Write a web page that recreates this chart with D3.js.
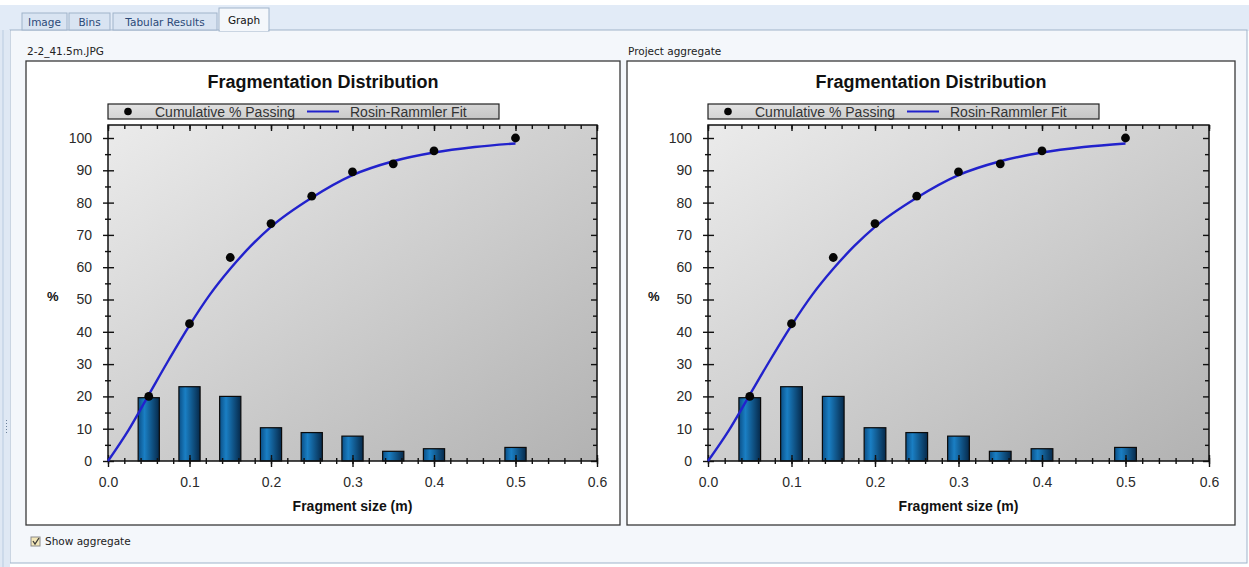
<!DOCTYPE html>
<html>
<head>
<meta charset="utf-8">
<script src="https://cdn.jsdelivr.net/npm/d3@7"></script>
<style>
  html, body { margin: 0; padding: 0; background: #ffffff; }
  svg { display: block; }
</style>
</head>
<body>
<div id="chart"></div>
<script>
// Data
const sizes = [0.05, 0.1, 0.15, 0.2, 0.25, 0.3, 0.35, 0.4, 0.5];
const cumPassing = [20, 42.5, 63, 73.5, 82, 89.5, 92, 96, 100];
const binPercent = [19.6, 23, 20, 10.3, 8.8, 7.7, 3.0, 3.8, 4.2];
const fitSizes = [0, 0.025, 0.05, 0.075, 0.1, 0.125, 0.15, 0.175, 0.2, 0.25, 0.3, 0.35, 0.4, 0.45, 0.5];
const fitValues = [0, 9.5, 20.5, 31.5, 42, 51.5, 59.5, 66.5, 72.5, 81.5, 88.5, 92.8, 95.5, 97.2, 98.3];
const xTicks = [0, 0.1, 0.2, 0.3, 0.4, 0.5, 0.6];
const yTicks = [0, 10, 20, 30, 40, 50, 60, 70, 80, 90, 100];
const tabNames = ["Image", "Bins", "Tabular Results", "Graph"];
const panelNames = ["2-2_41.5m.JPG", "Project aggregate"];

const W = 1249, H = 567;
const font = "Liberation Sans, Arial, sans-serif";
const uiFont = "DejaVu Sans, sans-serif";
const svg = d3.select("#chart").append("svg").attr("width", W).attr("height", H);
const defs = svg.append("defs");

// gradients
const bg = defs.append("linearGradient").attr("id", "plotBg")
    .attr("x1", "0%").attr("y1", "0%").attr("x2", "100%").attr("y2", "100%");
bg.append("stop").attr("offset", "0%").attr("stop-color", "#ebebeb");
bg.append("stop").attr("offset", "100%").attr("stop-color", "#b2b2b2");

const barG = defs.append("linearGradient").attr("id", "barFill")
    .attr("x1", "0%").attr("y1", "0%").attr("x2", "100%").attr("y2", "0%");
barG.append("stop").attr("offset", "0%").attr("stop-color", "#0b4f86");
barG.append("stop").attr("offset", "30%").attr("stop-color", "#1a7fc4");
barG.append("stop").attr("offset", "100%").attr("stop-color", "#06294a");

const legG = defs.append("linearGradient").attr("id", "legFill")
    .attr("x1", "0%").attr("y1", "0%").attr("x2", "100%").attr("y2", "100%");
legG.append("stop").attr("offset", "0%").attr("stop-color", "#e4e4e4");
legG.append("stop").attr("offset", "100%").attr("stop-color", "#c4c4c4");

// window chrome
svg.append("rect").attr("x", 0).attr("y", 5).attr("width", W).attr("height", 26).attr("fill", "#e2ebf7");
svg.append("rect").attr("x", 10).attr("y", 30).attr("width", 1237).attr("height", 533)
    .attr("fill", "#f4f7fb").attr("stroke", "#9fb3ca");
svg.append("rect").attr("x", 0).attr("y", 30).attr("width", 10).attr("height", 537).attr("fill", "#dfe8f4");
svg.append("line").attr("x1", 3).attr("x2", 3).attr("y1", 30).attr("y2", 567).attr("stroke", "#b9cbe0");
for (let i = 0; i < 5; i++) {
    svg.append("rect").attr("x", 6).attr("y", 420 + i * 3).attr("width", 1).attr("height", 1).attr("fill", "#6a7f99");
}

// tabs
const tabPos = [[22, 45], [69, 41], [113, 104], [219, 50]];
tabNames.forEach((t, i) => {
    const active = i === 3;
    const [tx, tw] = tabPos[i];
    const ty = active ? 8 : 13;
    svg.append("rect").attr("x", tx).attr("y", ty).attr("width", tw).attr("height", 30 - ty + (active ? 1 : 0))
        .attr("fill", active ? "#f4f7fb" : "#d9e4f2").attr("stroke", "#9fb3ca");
    svg.append("text").attr("x", tx + tw / 2).attr("y", active ? 24 : 26)
        .attr("text-anchor", "middle").attr("font-family", uiFont).attr("font-size", 10.5)
        .attr("fill", active ? "#111" : "#2c4a78").text(t);
});
svg.append("line").attr("x1", 220).attr("x2", 268).attr("y1", 30).attr("y2", 30).attr("stroke", "#f4f7fb").attr("stroke-width", 2);

// checkbox
svg.append("rect").attr("x", 31).attr("y", 537).attr("width", 9).attr("height", 9)
    .attr("fill", "#f3e7b8").attr("stroke", "#8a8a8a");
svg.append("path").attr("d", "M33,541 L35,544 L39,538").attr("fill", "none").attr("stroke", "#3a3a3a").attr("stroke-width", 1.3);
svg.append("text").attr("x", 45).attr("y", 545).attr("font-family", uiFont)
    .attr("font-size", 10.5).attr("fill", "#222").text("Show aggregate");

const panels = [
    {box: [26, 61, 594, 464], plot: [108, 597], name: panelNames[0]},
    {box: [627, 61, 608, 464], plot: [708, 1209], name: panelNames[1]}
];

const plotTop = 125, plotBottom = 461;
const barWidth = 0.026;

function drawPanel(p) {
    const [bx, by, bw, bh] = p.box;
    const g = svg.append("g");

    g.append("text").attr("x", bx + 1).attr("y", 55).attr("font-family", uiFont)
        .attr("font-size", 10.5).attr("fill", "#222").text(p.name);
    g.append("rect").attr("x", bx).attr("y", by).attr("width", bw).attr("height", bh)
        .attr("fill", "#ffffff").attr("stroke", "#3a3a3a").attr("stroke-width", 1.3);

    const x = d3.scaleLinear().domain([0, 0.6]).range(p.plot);
    const y = d3.scaleLinear().domain([0, 100]).range([plotBottom, 138]);
    const [x0, x1] = p.plot;

    // title
    g.append("text").attr("x", bx + bw / 2).attr("y", 88).attr("text-anchor", "middle")
        .attr("font-family", font).attr("font-weight", "bold")
        .attr("font-size", 18).attr("fill", "#111").text("Fragmentation Distribution");

    // plot background
    g.append("rect").attr("x", x0).attr("y", plotTop).attr("width", x1 - x0).attr("height", plotBottom - plotTop)
        .attr("fill", "url(#plotBg)");

    // bars
    g.selectAll("rect.bar").data(sizes).enter().append("rect").attr("class", "bar")
        .attr("x", d => x(d - barWidth / 2))
        .attr("width", d => x(d + barWidth / 2) - x(d - barWidth / 2))
        .attr("y", (d, i) => y(binPercent[i]))
        .attr("height", (d, i) => y(0) - y(binPercent[i]))
        .attr("fill", "url(#barFill)").attr("stroke", "#0a0a0a").attr("stroke-width", 1.2);

    // frame
    g.append("rect").attr("x", x0).attr("y", plotTop).attr("width", x1 - x0).attr("height", plotBottom - plotTop)
        .attr("fill", "none").attr("stroke", "#111").attr("stroke-width", 1.5);

    const minorX = d3.range(0, 0.6001, 0.02);
    const minorY = d3.range(5, 101, 10);
    const tickStyle = sel => {
        sel.select(".domain").remove();
        sel.selectAll("line").attr("stroke", "#111").attr("stroke-width", 1.4);
    };

    // left axis: labels + outward major ticks
    const yl = g.append("g").attr("transform", `translate(${x0},0)`)
        .call(d3.axisLeft(y).tickValues(yTicks).tickSize(5).tickPadding(11).tickFormat(d3.format("d")));
    yl.call(tickStyle);
    yl.selectAll("text").attr("font-family", font).attr("font-size", 14).attr("fill", "#2a2a2a");
    g.append("g").attr("transform", `translate(${x0},0)`)
        .call(d3.axisLeft(y).tickValues(yTicks).tickSize(-6).tickFormat("")).call(tickStyle);
    g.append("g").attr("transform", `translate(${x0},0)`)
        .call(d3.axisLeft(y).tickValues(minorY).tickSize(3).tickFormat("")).call(tickStyle);
    g.append("g").attr("transform", `translate(${x0},0)`)
        .call(d3.axisLeft(y).tickValues(minorY).tickSize(-3).tickFormat("")).call(tickStyle);

    // right axis: inward ticks
    g.append("g").attr("transform", `translate(${x1},0)`)
        .call(d3.axisRight(y).tickValues(yTicks).tickSize(-6).tickFormat("")).call(tickStyle);
    g.append("g").attr("transform", `translate(${x1},0)`)
        .call(d3.axisRight(y).tickValues(minorY).tickSize(-4).tickFormat("")).call(tickStyle);

    // bottom axis
    const xb = g.append("g").attr("transform", `translate(0,${plotBottom})`)
        .call(d3.axisBottom(x).tickValues(xTicks).tickSize(6).tickPadding(10).tickFormat(d3.format(".1f")));
    xb.call(tickStyle);
    xb.selectAll("text").attr("font-family", font).attr("font-size", 14).attr("fill", "#2a2a2a");
    g.append("g").attr("transform", `translate(0,${plotBottom})`)
        .call(d3.axisBottom(x).tickValues(xTicks).tickSize(-6).tickFormat("")).call(tickStyle);
    g.append("g").attr("transform", `translate(0,${plotBottom})`)
        .call(d3.axisBottom(x).tickValues(minorX).tickSize(3).tickFormat("")).call(tickStyle);
    g.append("g").attr("transform", `translate(0,${plotBottom})`)
        .call(d3.axisBottom(x).tickValues(minorX).tickSize(-3).tickFormat("")).call(tickStyle);

    // top axis: inward ticks
    g.append("g").attr("transform", `translate(0,${plotTop})`)
        .call(d3.axisTop(x).tickValues(minorX).tickSize(-4).tickFormat("")).call(tickStyle);
    g.append("g").attr("transform", `translate(0,${plotTop})`)
        .call(d3.axisTop(x).tickValues(xTicks).tickSize(-6).tickFormat("")).call(tickStyle);

    // fit line
    const line = d3.line().x(d => x(d[0])).y(d => y(d[1])).curve(d3.curveMonotoneX);
    g.append("path").datum(fitSizes.map((s, i) => [s, fitValues[i]]))
        .attr("d", line).attr("fill", "none").attr("stroke", "#2222cc").attr("stroke-width", 2.4);

    // cumulative points
    g.selectAll("circle.pt").data(sizes).enter().append("circle").attr("class", "pt")
        .attr("cx", d => x(d)).attr("cy", (d, i) => y(cumPassing[i])).attr("r", 4.4).attr("fill", "#050505");

    // axis titles
    g.append("text").attr("x", (x0 + x1) / 2).attr("y", 511).attr("text-anchor", "middle")
        .attr("font-family", font).attr("font-weight", "bold")
        .attr("font-size", 14).attr("fill", "#111").text("Fragment size (m)");
    g.append("text").attr("x", bx + 21).attr("y", 301)
        .attr("font-family", font).attr("font-weight", "bold")
        .attr("font-size", 13).attr("fill", "#111").text("%");

    // legend
    const lg = g.append("g").attr("transform", `translate(${x0},104)`);
    lg.append("rect").attr("width", 391).attr("height", 15).attr("fill", "url(#legFill)")
        .attr("stroke", "#222").attr("stroke-width", 1.2);
    lg.append("circle").attr("cx", 20).attr("cy", 7.5).attr("r", 3.8).attr("fill", "#050505");
    lg.append("text").attr("x", 47).attr("y", 12.5).attr("font-family", font)
        .attr("font-size", 14).attr("fill", "#333").text("Cumulative % Passing");
    lg.append("line").attr("x1", 199).attr("x2", 231).attr("y1", 7.5).attr("y2", 7.5)
        .attr("stroke", "#2222cc").attr("stroke-width", 2);
    lg.append("text").attr("x", 242).attr("y", 12.5).attr("font-family", font)
        .attr("font-size", 14).attr("fill", "#333").text("Rosin-Rammler Fit");
}

panels.forEach(drawPanel);
</script>
</body>
</html>
